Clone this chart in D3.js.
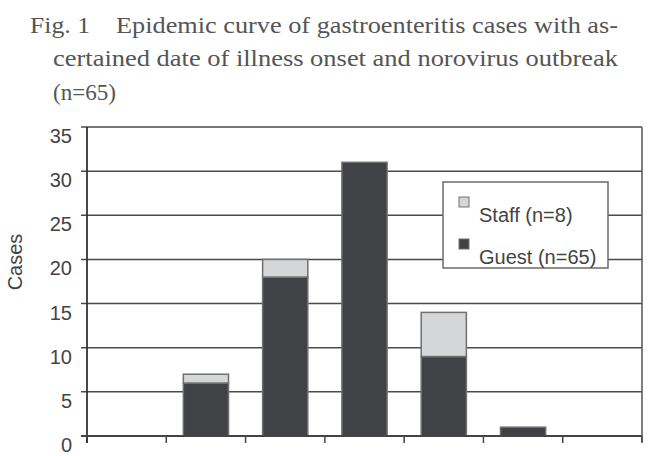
<!DOCTYPE html>
<html>
<head>
<meta charset="utf-8">
<script src="https://cdn.jsdelivr.net/npm/d3@7/dist/d3.min.js"></script>
<style>
  body { margin: 0; background: #fff; }
  svg { display: block; }
</style>
</head>
<body>
<svg width="650" height="456"></svg>
<script>
// onset days (no labels shown on the x axis in the figure)
var days = ["1", "2", "3", "4", "5", "6", "7"];
var guest = [0, 6, 18, 31, 9, 1, 0];
var staff = [0, 1, 2, 0, 5, 0, 0];
var yTicks = [0, 5, 10, 15, 20, 25, 30, 35];
var legendLabels = ["Staff (n=8)", "Guest (n=65)"];

var svg = d3.select("svg");

var plotL = 87, plotR = 642, plotT = 127, plotB = 436;

var x = d3.scaleBand()
  .domain(days)
  .range([plotL, plotR])
  .paddingInner(0.43)
  .paddingOuter(0.215);

var y = d3.scaleLinear()
  .domain([0, 35])
  .range([plotB, plotT]);

var rows = days.map(function (d, i) {
  return { day: d, guest: guest[i], staff: staff[i] };
});
var stack = d3.stack().keys(["guest", "staff"])(rows);
var color = { guest: "#404246", staff: "#d4d6d8" };

// title (tall narrow serif, squeezed to the reference widths)
var title = svg.append("g")
  .attr("font-family", "'Liberation Serif', 'DejaVu Serif', serif")
  .attr("font-size", 24)
  .attr("fill", "#555");
title.append("text").attr("x", 30).attr("y", 33)
  .attr("textLength", 60).attr("lengthAdjust", "spacingAndGlyphs")
  .text("Fig. 1");
title.append("text").attr("x", 116).attr("y", 33)
  .attr("textLength", 502).attr("lengthAdjust", "spacingAndGlyphs")
  .text("Epidemic curve of gastroenteritis cases with as-");
title.append("text").attr("x", 53).attr("y", 66)
  .attr("textLength", 565).attr("lengthAdjust", "spacingAndGlyphs")
  .text("certained date of illness onset and norovirus outbreak");
title.append("text").attr("x", 53).attr("y", 100)
  .attr("textLength", 63).attr("lengthAdjust", "spacingAndGlyphs")
  .text("(n=65)");

// gridlines + y labels
svg.append("g")
  .selectAll("line")
  .data(yTicks)
  .enter().append("line")
  .attr("x1", plotL - 6)
  .attr("x2", plotR)
  .attr("y1", function (d) { return y(d); })
  .attr("y2", function (d) { return y(d); })
  .attr("stroke", "#4a4a4a")
  .attr("stroke-width", 1.5);

svg.append("g")
  .attr("font-family", "'Liberation Sans', Arial, sans-serif")
  .attr("font-size", 20)
  .attr("fill", "#444")
  .attr("text-anchor", "end")
  .selectAll("text")
  .data(yTicks)
  .enter().append("text")
  .attr("x", 72)
  .attr("y", function (d) { return y(d) + 16; })
  .text(function (d) { return d; });

// frame right side
svg.append("line")
  .attr("x1", plotR).attr("x2", plotR)
  .attr("y1", plotT).attr("y2", plotB + 6)
  .attr("stroke", "#555").attr("stroke-width", 1.5);

// x ticks at the category boundaries
var bounds = days.map(function (d) { return x(d) - x.step() * x.paddingOuter(); });
bounds.push(plotR);
svg.append("g")
  .selectAll("line")
  .data(bounds)
  .enter().append("line")
  .attr("x1", function (d) { return d; })
  .attr("x2", function (d) { return d; })
  .attr("y1", plotB)
  .attr("y2", plotB + 7)
  .attr("stroke", "#444")
  .attr("stroke-width", 1.5);

// bars
svg.append("g")
  .selectAll("g")
  .data(stack)
  .enter().append("g")
  .attr("fill", function (d) { return color[d.key]; })
  .selectAll("rect")
  .data(function (d) { return d.filter(function (v) { return v[1] - v[0] > 0; }); })
  .enter().append("rect")
  .attr("x", function (d) { return x(d.data.day); })
  .attr("width", x.bandwidth())
  .attr("y", function (d) { return y(d[1]); })
  .attr("height", function (d) { return y(d[0]) - y(d[1]); })
  .attr("stroke", "#707070")
  .attr("stroke-width", 1.5);

// axes lines
svg.append("line")
  .attr("x1", plotL).attr("x2", plotL)
  .attr("y1", plotT).attr("y2", plotB + 7)
  .attr("stroke", "#333").attr("stroke-width", 1.8);
svg.append("line")
  .attr("x1", plotL - 6).attr("x2", plotR)
  .attr("y1", plotB).attr("y2", plotB)
  .attr("stroke", "#444").attr("stroke-width", 1.8);

// y axis title
svg.append("text")
  .attr("transform", "translate(22,262) rotate(-90)")
  .attr("text-anchor", "middle")
  .attr("font-family", "'Liberation Sans', Arial, sans-serif")
  .attr("font-size", 20)
  .attr("fill", "#444")
  .text("Cases");

// legend
var legend = svg.append("g");
legend.append("rect")
  .attr("x", 443).attr("y", 182)
  .attr("width", 165).attr("height", 86)
  .attr("fill", "#fff")
  .attr("stroke", "#6a6a6a")
  .attr("stroke-width", 1.5);

var items = legend.selectAll("g.item")
  .data(legendLabels)
  .enter().append("g")
  .attr("class", "item")
  .attr("transform", function (d, i) { return "translate(459," + (197 + i * 42) + ")"; });
items.append("rect")
  .attr("width", 10).attr("height", 10)
  .attr("fill", function (d, i) { return i === 0 ? color.staff : color.guest; })
  .attr("stroke", "#707070")
  .attr("stroke-width", 1);
items.append("text")
  .attr("x", 20).attr("y", 25)
  .attr("font-family", "'Liberation Sans', Arial, sans-serif")
  .attr("font-size", 20)
  .attr("fill", "#444")
  .text(function (d) { return d; });
</script>
</body>
</html>
